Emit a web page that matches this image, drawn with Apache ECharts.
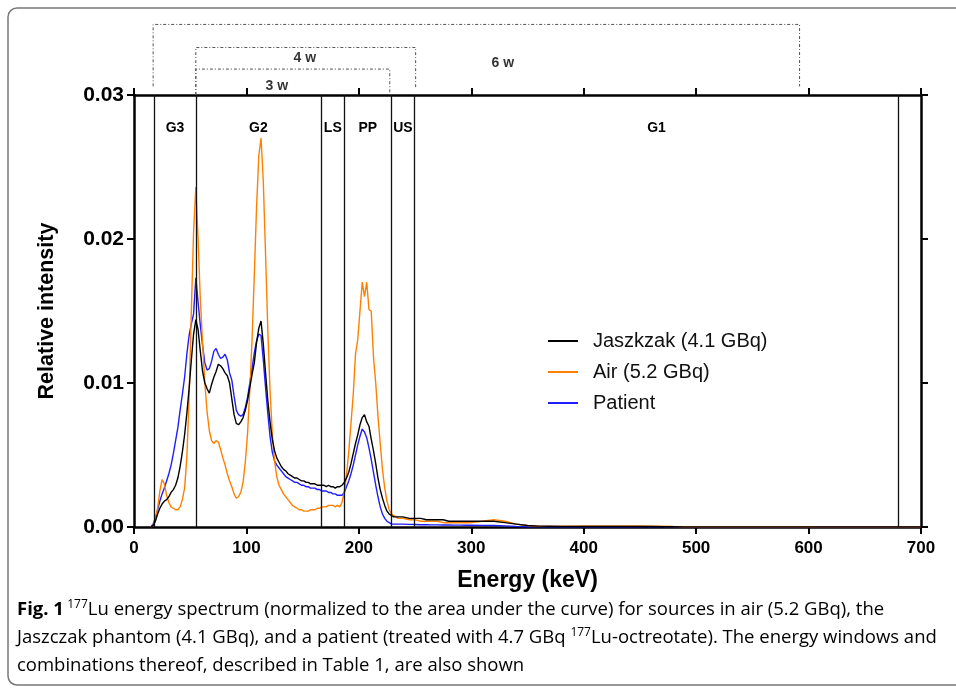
<!DOCTYPE html>
<html><head><meta charset="utf-8">
<script src="https://cdn.jsdelivr.net/npm/echarts@6/dist/echarts.min.js"></script>
<style>html,body{margin:0;padding:0;background:#fff}#c{width:956px;height:689px}</style>
</head><body><div id="c"></div>
<script>
// Energy channels (keV)
const energyKeV = [
15,17,19,21,23,25,27,29,31,33,
35,37,39,41,43,45,47,49,51,53,
55,57,59,61,63,65,67,69,71,73,
75,77,79,81,83,85,87,89,91,93,
95,97,99,101,103,105,107,109,111,113,
115,117,119,121,123,125,127,129,131,133,
135,137,139,141,143,145,147,149,151,153,
155,157,159,161,163,165,167,169,171,173,
175,177,179,181,183,185,187,189,191,193,
195,197,199,201,203,205,207,209,211,213,
215,217,219,221,223,225,227,229,231,233,
235,237,239,
245,250,255,260,265,270,275,280,285,290,295,300,
310,320,330,340,350,360,370,380,390,400,
410,420,430,440,450,460,470,480,490,500,
510,520,530,540,550,560,570,580,590,600,
610,620,630,640,650,660,670,680,690,700
];
// Jaszczak phantom (4.1 GBq)
const jaszczak = [
0,0.0001,0.0004,0.0009,0.0013,0.0016,0.0018,0.0019,0.0021,0.0024,
0.0026,0.0029,0.0034,0.0042,0.0052,0.0064,0.0079,0.0096,0.0116,0.0134,
0.0144,0.0137,0.0122,0.0108,0.0100,0.0096,0.0093,0.0099,0.0104,0.0108,
0.0113,0.0112,0.0110,0.0107,0.0105,0.0100,0.0089,0.0078,0.0072,0.0071,
0.0073,0.0076,0.0081,0.0088,0.0097,0.0106,0.0114,0.0128,0.0138,0.0143,
0.0127,0.0107,0.0088,0.0073,0.0061,0.0053,0.0048,0.0045,0.0042,0.0040,
0.0039,0.0037,0.0036,0.0035,0.0034,0.0034,0.0033,0.0032,0.0032,0.0031,
0.0031,0.0030,0.0030,0.0030,0.0029,0.0029,0.0029,0.0029,0.0028,0.0029,
0.0028,0.0028,0.0027,0.0028,0.0028,0.0029,0.0031,0.0034,0.0038,0.0044,
0.0051,0.0058,0.0064,0.0071,0.0076,0.0078,0.0073,0.0070,0.0061,0.0053,
0.0044,0.0034,0.0026,0.0020,0.0015,0.0011,0.0009,0.0008,0.0007,0.0007,
0.0007,0.0007,0.0007,
0.0006,0.0006,0.0006,0.0005,0.0005,0.0005,0.0005,0.0004,0.0004,0.0004,0.0004,0.0004,
0.0004,0.0004,0.0003,0.0002,0.0001,0.00006,0.00005,0.00004,0.00004,0.00004,
0.00004,0.00004,0.00004,0.00004,0.00003,0.00003,0.00002,0.00002,0.00001,0.00001,
0.00001,0.00001,0.00001,0.00001,0.00001,0.00001,0.00001,0.00001,0.00001,0.00001,
0.00001,0.00001,0.00001,0.00001,0.00001,0.00001,0.00001,0.00001,0.00001,0.00001
];
// Air (5.2 GBq)
const air = [
0,0.0001,0.0005,0.0013,0.0025,0.0033,0.0030,0.0022,0.0017,0.0014,
0.0013,0.0012,0.0012,0.0014,0.0019,0.0027,0.0048,0.0090,0.0150,0.0205,
0.0236,0.0200,0.0158,0.0128,0.0100,0.0080,0.0067,0.0060,0.0058,0.0060,
0.0059,0.0054,0.0048,0.0043,0.0037,0.0032,0.0028,0.0023,0.0020,0.0021,
0.0024,0.0031,0.0045,0.0065,0.0095,0.0130,0.0175,0.0222,0.0258,0.0270,
0.0240,0.0190,0.0137,0.0095,0.0065,0.0046,0.0035,0.0029,0.0026,0.0023,
0.0021,0.0019,0.0017,0.0015,0.0014,0.0013,0.0012,0.0012,0.0011,0.0011,
0.0011,0.0012,0.0012,0.0012,0.0013,0.0013,0.0014,0.0014,0.0014,0.0015,
0.0015,0.0015,0.0014,0.0015,0.0014,0.0017,0.0024,0.0036,0.0052,0.0072,
0.0092,0.0120,0.0130,0.0150,0.0170,0.0160,0.0170,0.0151,0.0150,0.0118,
0.0100,0.0077,0.0058,0.0040,0.0027,0.0018,0.0012,0.0009,0.0008,0.0007,
0.0006,0.0006,0.0006,
0.0005,0.0005,0.0004,0.0004,0.0004,0.0004,0.0003,0.0003,0.0003,0.0003,0.0003,0.0003,
0.0004,0.0005,0.0004,0.0002,0.0001,0.00005,0.00004,0.00005,0.00006,0.00007,
0.00008,0.00008,0.00008,0.00008,0.00007,0.00006,0.00005,0.00003,0.00002,0.00002,
0.00002,0.00002,0.00002,0.00002,0.00002,0.00002,0.00002,0.00002,0.00002,0.00002,
0.00001,0.00001,0.00001,0.00001,0.00001,0.00001,0.00001,0.00001,0.00001,0.00001
];
// Patient
const patient = [
0,0.0002,0.0006,0.0012,0.0018,0.0023,0.0027,0.0032,0.0037,0.0043,
0.0051,0.0060,0.0069,0.0081,0.0092,0.0104,0.0120,0.0133,0.0141,0.0148,
0.0173,0.0156,0.0140,0.0126,0.0114,0.0109,0.0110,0.0115,0.0122,0.0124,
0.0120,0.0117,0.0118,0.0120,0.0116,0.0107,0.0102,0.0091,0.0081,0.0078,
0.0077,0.0078,0.0083,0.0090,0.0100,0.0110,0.0121,0.0129,0.0134,0.0133,
0.0116,0.0097,0.0079,0.0063,0.0052,0.0046,0.0043,0.0041,0.0039,0.0037,
0.0035,0.0034,0.0033,0.0032,0.0031,0.0031,0.0030,0.0029,0.0029,0.0028,
0.0028,0.0027,0.0027,0.0027,0.0026,0.0026,0.0025,0.0025,0.0025,0.0024,
0.0024,0.0023,0.0023,0.0022,0.0022,0.0022,0.0024,0.0028,0.0032,0.0037,
0.0043,0.0050,0.0057,0.0063,0.0068,0.0066,0.0062,0.0055,0.0047,0.0038,
0.0029,0.0021,0.0014,0.0009,0.0006,0.0004,0.0003,0.0002,0.0002,0.0002,
0.0002,0.0002,0.0002,
0.00018,0.00017,0.00016,0.00016,0.00015,0.00015,0.00014,0.00014,0.00013,0.00013,0.00012,0.00012,
0.00011,0.0001,0.00008,0.00004,0.00002,0.00001,0.00001,0.00001,0.00001,0.00001,
0.00001,0.00001,0.00001,0.00001,0.00001,0.00001,0.00001,0.00001,0.00001,0.00001,
0.00001,0.00001,0.00001,0.00001,0.00001,0.00001,0.00001,0.00001,0.00001,0.00001,
0.00001,0.00001,0.00001,0.00001,0.00001,0.00001,0.00001,0.00001,0.00001,0.00001
];
const seriesNames = ['Jaszkzak (4.1 GBq)', 'Air (5.2 GBq)', 'Patient'];
const seriesColors = ['#000000', '#ff8000', '#1e1eff'];

// Energy windows (keV)
const windowBounds = [18, 55, 166.4, 187.2, 228.8, 249.6, 680];
const windowNames = ['G3', 'G2', 'LS', 'PP', 'US', 'G1'];

// Window combinations (brackets above the plot)
const bracketNames = ['6 w', '4 w', '3 w'];
const bracketStart = [17, 55, 55];
const bracketEnd = [592, 250.5, 227.5];
const bracketTop = [0.0349, 0.0333, 0.0318];
const bracketFootLeft = [0.0306, 0.0300, 0.0300];
const bracketFootRight = [0.0306, 0.0305, 0.0300];
const bracketLabelX = [328, 152, 127];
const bracketLabelY = [0.0322, 0.03255, 0.0306];

const xMin = 0, xMax = 700, xStep = 100;
const yMin = 0, yMax = 0.03, yStep = 0.01;

const FONT = '"Liberation Sans", Arial, sans-serif';
const CAP = '"Open Sans", sans-serif';
const chart = echarts.init(document.getElementById('c'), null, {renderer: 'canvas'});

function pairs(vals) { return energyKeV.map((e, i) => [e, vals[i]]); }
const valueSets = [jaszczak, air, patient];

const axisLine = {show: true, onZero: false, lineStyle: {color: '#000', width: 2.5}};
const axisTick = {show: true, inside: false, length: 7, lineStyle: {color: '#000', width: 2}};

const series = [];
// draw order: patient, air, jaszczak on top
[2, 1, 0].forEach(i => {
  series.push({
    name: seriesNames[i], type: 'line', data: pairs(valueSets[i]),
    showSymbol: false, symbol: 'none', smooth: false,
    lineStyle: {color: seriesColors[i], width: 1.4},
    itemStyle: {color: seriesColors[i]},
    z: 3 + (2 - i), silent: true
  });
});
// window lines and labels
series.push({
  type: 'line', data: [], silent: true,
  markLine: {
    silent: true, symbol: 'none', animation: false,
    label: {show: false},
    lineStyle: {color: '#111', width: 1.3, type: 'solid'},
    data: windowBounds.map(v => ({xAxis: v}))
  },
  markArea: {
    silent: true,
    itemStyle: {color: 'rgba(0,0,0,0)'},
    label: {show: true, position: 'insideTop', distance: 26, color: '#000',
            fontWeight: 'bold', fontSize: 14, fontFamily: FONT},
    data: windowNames.map((n, i) => [{name: n, xAxis: windowBounds[i]}, {xAxis: windowBounds[i + 1]}])
  }
});
// brackets
bracketNames.forEach((n, i) => {
  series.push({
    type: 'line', silent: true, clip: false, symbol: 'none', showSymbol: false,
    data: [[bracketStart[i], bracketFootLeft[i]], [bracketStart[i], bracketTop[i]],
           [bracketEnd[i], bracketTop[i]], [bracketEnd[i], bracketFootRight[i]]],
    lineStyle: {color: '#555', width: 1, type: [3, 2, 1, 2]}
  });
});
series.push({
  type: 'scatter', silent: true, clip: false, symbolSize: 0,
  data: bracketNames.map((n, i) => ({name: n, value: [bracketLabelX[i], bracketLabelY[i]]})),
  label: {show: true, position: 'inside', formatter: p => p.name, color: '#000',
          fontWeight: 'bold', fontSize: 14, fontFamily: FONT}
});

chart.setOption({
  animation: false,
  backgroundColor: '#fff',
  grid: {left: 134, right: 35, top: 95, bottom: 162, containLabel: false},
  legend: {
    data: seriesNames, orient: 'vertical', left: 543, top: 326,
    icon: 'rect', itemWidth: 30, itemHeight: 2, itemGap: 11,
    textStyle: {fontSize: 20, color: '#111', fontFamily: FONT, lineHeight: 20, padding: [0, 0, 0, 10]}
  },
  xAxis: [
    {type: 'value', min: xMin, max: xMax, interval: xStep, position: 'bottom',
     axisLine, axisTick, splitLine: {show: false},
     axisLabel: {margin: 13, color: '#000', fontWeight: 'bold', fontSize: 17, fontFamily: FONT},
     name: 'Energy (keV)', nameLocation: 'middle', nameGap: 42,
     nameTextStyle: {color: '#000', fontWeight: 'bold', fontSize: 23, fontFamily: FONT}},
    {type: 'value', min: xMin, max: xMax, interval: xStep, position: 'top',
     axisLine, axisTick, splitLine: {show: false}, axisLabel: {show: false}}
  ],
  yAxis: [
    {type: 'value', min: yMin, max: yMax, interval: yStep, position: 'left',
     axisLine, axisTick, splitLine: {show: false},
     axisLabel: {margin: 10, color: '#000', fontWeight: 'bold', fontSize: 21, fontFamily: FONT,
                 formatter: v => v.toFixed(2)},
     name: 'Relative intensity', nameLocation: 'middle', nameGap: 76,
     nameTextStyle: {color: '#000', fontWeight: 'bold', fontSize: 21.5, fontFamily: FONT}},
    {type: 'value', min: yMin, max: yMax, interval: yStep, position: 'right',
     axisLine, axisTick, splitLine: {show: false}, axisLabel: {show: false}}
  ],
  graphic: [
    {type: 'rect', silent: true, shape: {x: 8, y: 8, width: 1000, height: 677, r: 9},
     style: {fill: 'none', stroke: '#777', lineWidth: 1.5}},
    {type: 'text', left: 17, top: 596, silent: true,
     style: {
       text: '{b|Fig. 1} {s|177}{n|Lu energy spectrum (normalized to the area under the curve) for sources in air (5.2 GBq), the}\n' +
             '{n|Jaszczak phantom (4.1 GBq), and a patient (treated with 4.7 GBq }{s|177}{n|Lu-octreotate). The energy windows and}\n' +
             '{n|combinations thereof, described in Table }{l|1}{n|, are also shown}',
       rich: {
         n: {fontFamily: CAP, fontSize: 18.5, color: '#2a2a2a', lineHeight: 28},
         b: {fontFamily: CAP, fontSize: 18.5, fontWeight: 'bold', color: '#2a2a2a', lineHeight: 28},
         s: {fontFamily: CAP, fontSize: 12, color: '#2a2a2a', lineHeight: 28, verticalAlign: 'top', padding: [3, 0, 0, 0]},
         l: {fontFamily: CAP, fontSize: 18.5, color: '#3344cc', lineHeight: 28}
       }
     }}
  ],
  series
});
</script></body></html>
